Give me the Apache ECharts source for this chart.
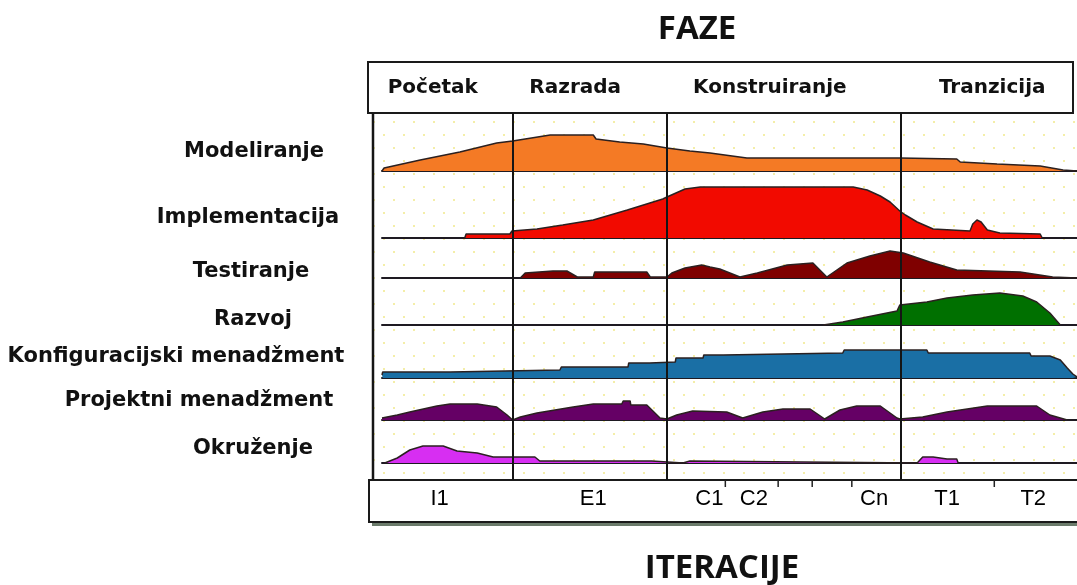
<!DOCTYPE html>
<html>
<head>
<meta charset="utf-8">
<script src="https://cdn.jsdelivr.net/npm/echarts/dist/echarts.min.js"></script>
<style>
html, body { margin: 0; padding: 0; background: #fff; }
#chart { width: 1077px; height: 585px; }
</style>
</head>
<body>
<div id="chart"></div>
<script>
// faze (vrijeme 0..100)
const phases = ['Početak', 'Razrada', 'Konstruiranje', 'Tranzicija'];
const phaseLabelX = [7.3, 27.8, 55.8, 87.8];
const phaseBounds = [18.8, 41.0, 74.7];

// iteracije
const iterations = ['I1', 'E1', 'C1', 'C2', 'Cn', 'T1', 'T2'];
const iterationX = [8.3, 30.4, 47.1, 53.5, 70.8, 81.3, 93.7];
const iterationTicks = [49.4, 57.0, 61.9, 67.6, 88.1];

const disciplines = ['Modeliranje', 'Implementacija', 'Testiranje', 'Razvoj',
    'Konfiguracijski menadžment', 'Projektni menadžment', 'Okruženje'];
const colors = ['#f47a25', '#f20a00', '#7f0000', '#007000', '#1a6fa5', '#650065', '#d72ef2'];

// [vrijeme, intenzitet]
const modeliranje = [[0,0],[0.3,3],[5.5,11],[11.2,19],[16.5,28],[18.8,30],[24.2,36],[30.4,36],
    [30.8,32],[34.2,29],[37.6,27],[41.0,23],[44.3,20],[47.2,18],[52.5,13],[74.5,13],[82.7,12],
    [83.2,9],[88.5,7],[94.7,5],[98.0,1],[100,0]];
const implementacija = [[11.9,0],[12.1,4],[18.4,4],[18.7,7],[22.3,9],[26.0,13],[30.4,18],[35.3,28],
    [40.4,39],[41.0,41],[43.6,49],[45.8,51],[67.8,51],[69.8,48],[71.7,42],[73.1,36],[74.5,27],
    [75.3,23],[77.0,16],[79.3,9],[84.6,7],[85.0,14],[85.6,18],[86.2,16],[87.1,8],[88.9,5],
    [94.7,4],[95.0,0]];
const testiranje = [[19.9,0],[20.6,5],[24.6,7],[26.6,7],[28.1,1],[30.4,1],[30.6,6],[38.1,6],
    [38.6,1],[41.0,1],[41.7,5],[43.6,10],[46.0,13],[47.2,11],[48.6,9],[51.5,1],[54.0,5],[58.3,13],
    [62.0,15],[64.0,1],[66.9,15],[70.2,22],[73.1,27],[75.0,25],[78.8,16],[82.7,8],[91.8,6],
    [96.5,1],[100,0]];
const razvoj = [[63.5,0],[63.6,2],[66.3,3],[69.8,8],[74.1,14],[74.5,20],[78.4,23],[81.3,27],
    [85.0,30],[88.9,32],[92.2,29],[94.2,23],[96.1,12],[97.6,0]];
const konfiguracija = [[0,3],[0.1,6],[9.8,6],[9.9,8],[25.6,8],[25.8,11],[35.4,11],[35.5,15],
    [38.5,15],[38.6,16],[42.2,16],[42.3,20],[46.2,20],[46.3,23],[49.1,23],[49.2,25],[66.3,25],
    [66.5,28],[78.4,28],[78.6,25],[93.2,25],[93.4,22],[96.1,22],[97.6,18],[98.6,10],[99.4,4],[100,1]];
const projektni = [[0,2],[2.2,5],[4.0,8],[7.9,14],[9.8,16],[13.7,16],[16.5,13],[18.0,5],[18.8,0],
    [19.9,3],[22.3,7],[27.5,13],[30.4,16],[34.5,16],[34.7,19],[35.7,19],[35.8,15],[38.1,15],
    [40.0,2],[41.0,1],[42.4,5],[44.7,9],[49.6,8],[51.9,2],[54.8,8],[57.7,11],[61.6,11],[63.7,1],
    [65.9,10],[68.3,14],[71.7,14],[74.1,2],[74.5,1],[77.8,3],[81.3,8],[87.1,14],[94.2,14],
    [96.1,5],[98.6,0]];
const okruzenje = [[0.4,0],[2.2,5],[4.0,13],[5.9,17],[8.8,17],[10.8,12],[13.7,10],[16.0,6],
    [22.0,6],[22.7,2],[38.8,2],[39.0,0],[43.3,0],[43.5,2],[44.3,2],[44.5,0],[77.0,0],[77.8,6],
    [79.3,6],[81.3,4],[82.7,4],[82.9,0]];
const rows = [modeliranje, implementacija, testiranje, razvoj, konfiguracija, projektni, okruzenje];

// raspored redova (px)
const rowBaseline = [171, 238, 278, 325, 378, 420, 463];
const rowLabelPos = [[254, 152], [248, 218], [251, 272], [253, 320], [176, 357], [199, 401], [253, 449]];

let myChart = echarts.init(document.getElementById('chart'));

// tockasta pozadina
const pat = document.createElement('canvas');
pat.width = 20; pat.height = 26;
const pc = pat.getContext('2d');
pc.fillStyle = '#f4eea8';
pc.fillRect(3, 4, 2, 2);
pc.fillRect(13, 17, 2, 2);

const grids = [], xAxes = [], yAxes = [], series = [];
rows.forEach((data, i) => {
    grids.push({left: 382, right: 0, top: rowBaseline[i] - 60, height: 60});
    xAxes.push({
        gridIndex: i, type: 'value', min: 0, max: 100,
        axisLine: {show: true, lineStyle: {color: '#1e1a22', width: 2}},
        axisTick: {show: false}, axisLabel: {show: false}, splitLine: {show: false}
    });
    yAxes.push({gridIndex: i, type: 'value', min: 0, max: 60, show: false});
    series.push({
        name: disciplines[i], type: 'line', xAxisIndex: i, yAxisIndex: i,
        data: data, symbol: 'none', z: 3,
        lineStyle: {color: '#2b2020', width: 1.5},
        areaStyle: {color: colors[i], opacity: 1}
    });
});

// cijelo podrucje - granice faza
grids.push({left: 382, right: 0, top: 113, height: 367});
xAxes.push({gridIndex: 7, type: 'value', min: 0, max: 100, show: false});
yAxes.push({gridIndex: 7, type: 'value', min: 0, max: 1, show: false});
series.push({
    type: 'line', xAxisIndex: 7, yAxisIndex: 7, data: [[0, 0.5], [100, 0.5]],
    symbol: 'none', lineStyle: {width: 0, opacity: 0}, z: 10, silent: true,
    markLine: {
        silent: true, symbol: ['none', 'none'], label: {show: false},
        lineStyle: {color: '#151515', width: 2, type: 'solid'},
        data: phaseBounds.map(x => ({xAxis: x}))
    }
});

// zaglavlje faza
grids.push({left: 382, right: 0, top: 62, height: 51});
xAxes.push({gridIndex: 8, type: 'value', min: 0, max: 100, show: false});
yAxes.push({gridIndex: 8, type: 'value', min: 0, max: 1, show: false});
series.push({
    type: 'scatter', xAxisIndex: 8, yAxisIndex: 8, symbolSize: 0, clip: false,
    itemStyle: {opacity: 1},
    data: phaseLabelX.map(x => [x, 0.5]),
    label: {
        show: true, position: 'inside', color: '#111',
        fontFamily: 'DejaVu Sans', fontWeight: 'bold', fontSize: 20,
        formatter: p => phases[p.dataIndex]
    }
});

// iteracije
grids.push({left: 382, right: 0, top: 480, height: 42});
xAxes.push({gridIndex: 9, type: 'value', min: 0, max: 100, show: false});
yAxes.push({gridIndex: 9, type: 'value', min: 0, max: 1, show: false});
series.push({
    type: 'scatter', xAxisIndex: 9, yAxisIndex: 9, symbolSize: 0, clip: false,
    itemStyle: {opacity: 1},
    data: iterationX.map(x => [x, 0.55]),
    label: {
        show: true, position: 'inside', color: '#000',
        fontFamily: 'Liberation Sans', fontSize: 22,
        formatter: p => iterations[p.dataIndex]
    }
});
series.push({
    type: 'scatter', xAxisIndex: 9, yAxisIndex: 9, clip: false,
    symbol: 'rect', symbolSize: [1.5, 7], symbolOffset: [0, 3.5],
    itemStyle: {color: '#222', opacity: 1},
    data: iterationTicks.map(x => [x, 1])
});

const textStyle = (text, x, y, font) => ({
    type: 'text', x: x, y: y, z: 20,
    style: {text: text, font: font, fill: '#111',
        textAlign: 'center', textVerticalAlign: 'middle', align: 'center', verticalAlign: 'middle'}
});

const graphic = [
    {type: 'rect', z: -5, shape: {x: 373, y: 113, width: 704, height: 367},
        style: {fill: {image: pat, repeat: 'repeat'}}},
    {type: 'rect', shape: {x: 368, y: 62, width: 705, height: 51},
        style: {fill: null, stroke: '#1a1a1a', lineWidth: 2}},
    {type: 'line', shape: {x1: 373, y1: 113, x2: 373, y2: 480},
        style: {stroke: '#151515', lineWidth: 2.5}},
    {type: 'rect', shape: {x: 372, y: 523, width: 710, height: 3}, style: {fill: '#6b7b6b'}},
    {type: 'rect', shape: {x: 369, y: 480, width: 720, height: 42},
        style: {fill: null, stroke: '#1a1a1a', lineWidth: 2}},
    textStyle('FAZE', 697, 30, 'bold 33px "Open Sans"'),
    textStyle('ITERACIJE', 722, 569, 'bold 33px "Open Sans"')
];
disciplines.forEach((d, i) => {
    graphic.push(textStyle(d, rowLabelPos[i][0], rowLabelPos[i][1], 'bold 21px "DejaVu Sans"'));
});

myChart.setOption({
    animation: false,
    grid: grids,
    xAxis: xAxes,
    yAxis: yAxes,
    series: series,
    graphic: graphic
});
</script>
</body>
</html>
